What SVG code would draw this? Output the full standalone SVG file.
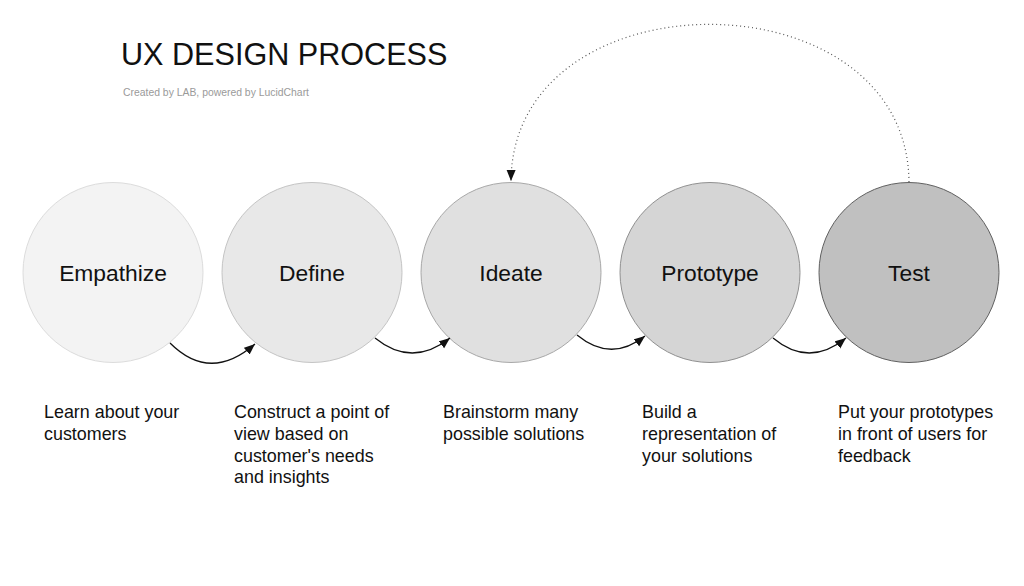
<svg xmlns="http://www.w3.org/2000/svg" width="1024" height="586" viewBox="0 0 1024 586">
  <style>
    .label { font-family: "Liberation Sans", Arial, sans-serif; font-size: 22.8px; fill: #111; text-anchor: middle; }
    .desc { font-family: "Liberation Sans", Arial, sans-serif; font-size: 17.9px; fill: #111; }
    .title { font-family: "Liberation Sans", Arial, sans-serif; font-size: 30.6px; fill: #111; }
    .sub { font-family: "Liberation Sans", Arial, sans-serif; font-size: 10.4px; fill: #9a9a9a; }
    .conn { fill: none; stroke: #111; stroke-width: 1.3; }
    .loop { fill: none; stroke: #555; stroke-width: 1.2; stroke-dasharray: 1 3; }
  </style>
  <defs>
    <marker id="arrow" markerUnits="userSpaceOnUse" markerWidth="12" markerHeight="10" refX="11" refY="4.5" orient="auto">
      <path d="M0,0 L11,4.5 L0,9 Z" fill="#111"/>
    </marker>
  </defs>
  <rect width="1024" height="586" fill="#ffffff"/>

  <g id="title">
    <text class="title" x="121" y="65">UX DESIGN PROCESS</text>
    <text class="sub" x="123" y="96">Created by LAB, powered by LucidChart</text>
  </g>

  <g id="empathize">
    <circle cx="113" cy="272.5" r="90" fill="#f3f3f3" stroke="#dcdcdc" stroke-width="1"/>
    <text class="label" x="113" y="281">Empathize</text>
  </g>
  <g id="define">
    <circle cx="312" cy="272.5" r="90" fill="#e8e8e8" stroke="#c4c4c4" stroke-width="1"/>
    <text class="label" x="312" y="281">Define</text>
  </g>
  <g id="ideate">
    <circle cx="511" cy="272.5" r="90" fill="#e0e0e0" stroke="#a8a8a8" stroke-width="1"/>
    <text class="label" x="511" y="281">Ideate</text>
  </g>
  <g id="prototype">
    <circle cx="710" cy="272.5" r="90" fill="#d5d5d5" stroke="#909090" stroke-width="1"/>
    <text class="label" x="710" y="281">Prototype</text>
  </g>
  <g id="test">
    <circle cx="909" cy="272.5" r="90" fill="#c0c0c0" stroke="#606060" stroke-width="1"/>
    <text class="label" x="909" y="281">Test</text>
  </g>

  <g id="connectors">
    <path class="conn" d="M170,343 Q210,383 255,344" marker-end="url(#arrow)"/>
    <path class="conn" d="M375,338 Q412,368 450,338" marker-end="url(#arrow)"/>
    <path class="conn" d="M577,335 Q611,363 645,336" marker-end="url(#arrow)"/>
    <path class="conn" d="M773,338 Q809,368 846,338" marker-end="url(#arrow)"/>
    <path class="loop" d="M909,182 C907,-28 513,-28 511,181" marker-end="url(#arrow)"/>
  </g>

  <g id="descriptions">
    <text class="desc" x="44" y="418">Learn about your<tspan x="44" y="440">customers</tspan></text>
    <text class="desc" x="234" y="418">Construct a point of<tspan x="234" y="440">view based on</tspan><tspan x="234" y="461.5">customer's needs</tspan><tspan x="234" y="483">and insights</tspan></text>
    <text class="desc" x="443" y="418">Brainstorm many<tspan x="443" y="440">possible solutions</tspan></text>
    <text class="desc" x="642" y="418">Build a<tspan x="642" y="440">representation of</tspan><tspan x="642" y="461.5">your solutions</tspan></text>
    <text class="desc" x="838" y="418">Put your prototypes<tspan x="838" y="440">in front of users for</tspan><tspan x="838" y="461.5">feedback</tspan></text>
  </g>
</svg>
